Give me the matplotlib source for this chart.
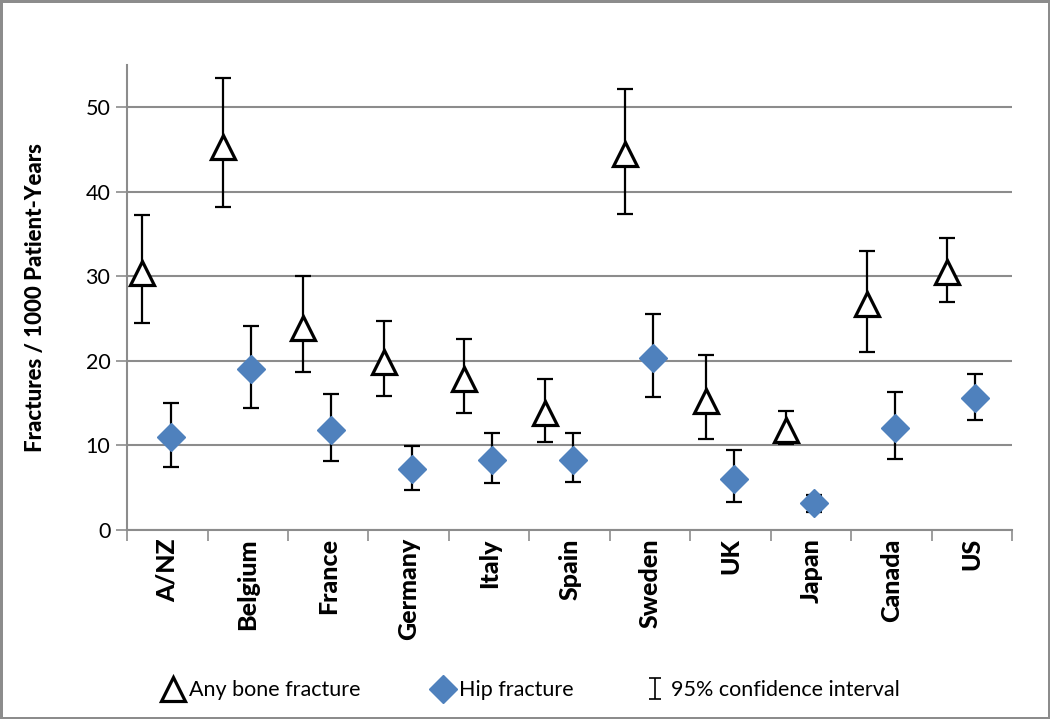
"""Fracture rates per 1000 patient-years by country, with 95% CIs."""

import matplotlib.pyplot as plt
import numpy as np

# ---------------------------------------------------------------------------
# Data
# ---------------------------------------------------------------------------

countries = ["A/NZ", "Belgium", "France", "Germany", "Italy", "Spain",
             "Sweden", "UK", "Japan", "Canada", "US"]

any_rate = [30.4, 45.3, 23.9, 19.8, 17.8, 13.8, 44.4, 15.2, 11.8, 26.7, 30.5]
any_low = [24.5, 38.2, 18.7, 15.8, 13.8, 10.4, 37.3, 10.8, 10.2, 21.0, 27.0]
any_high = [37.2, 53.4, 30.0, 24.7, 22.6, 17.9, 52.1, 20.7, 14.1, 33.0, 34.5]

hip_rate = [11.0, 19.0, 11.8, 7.2, 8.3, 8.3, 20.3, 6.0, 3.2, 12.1, 15.6]
hip_low = [7.4, 14.4, 8.2, 4.7, 5.6, 5.7, 15.7, 3.3, 2.1, 8.4, 13.0]
hip_high = [15.0, 24.1, 16.1, 9.9, 11.5, 11.4, 25.5, 9.4, 4.1, 16.3, 18.4]

y_ticks = [0, 10, 20, 30, 40, 50]

# ---------------------------------------------------------------------------
# Plot
# ---------------------------------------------------------------------------

plt.rcParams["font.family"] = ["Lato", "DejaVu Sans"]

GRID = "#8c8c8c"
BLUE = "#4f81bd"

fig = plt.figure(figsize=(10.5, 7.19), dpi=100,
                 edgecolor="#8c8c8c", linewidth=2.5)
ax = fig.add_axes([0.121, 0.263, 0.843, 0.647])

x = np.arange(len(countries))
any_rate = np.array(any_rate)
hip_rate = np.array(hip_rate)
any_err = [any_rate - np.array(any_low), np.array(any_high) - any_rate]
hip_err = [hip_rate - np.array(hip_low), np.array(hip_high) - hip_rate]

err_kw = dict(fmt="none", ecolor="black", elinewidth=1.6, capsize=6,
              capthick=1.6, zorder=3)
ax.errorbar(x - 0.31, any_rate, yerr=any_err, **err_kw)
ax.errorbar(x + 0.04, hip_rate, yerr=hip_err, **err_kw)

tri, = ax.plot(x - 0.31, any_rate, linestyle="none", marker="^",
               markersize=17, markerfacecolor="white",
               markeredgecolor="black", markeredgewidth=2.3, zorder=4,
               label="Any bone fracture")
dia, = ax.plot(x + 0.04, hip_rate, linestyle="none", marker="D",
               markersize=14, markerfacecolor=BLUE, markeredgecolor=BLUE,
               zorder=4, label="Hip fracture")
ci = ax.errorbar([np.nan], [np.nan], yerr=[1], fmt="none", ecolor="black",
                 elinewidth=1.2, capsize=4, capthick=1.2,
                 label="95% confidence interval")

ax.set_xlim(-0.5, len(countries) - 0.5)
ax.set_ylim(0, 55)
ax.set_yticks(y_ticks)
ax.tick_params(axis="y", labelsize=15.5, length=8, color=GRID, width=1.2,
               pad=4)
ax.grid(True, axis="y", color=GRID, linewidth=1.5)
ax.set_axisbelow(True)

# Ticks between categories, labels at category centres
ax.set_xticks(np.arange(len(countries) + 1) - 0.5)
ax.set_xticklabels([])
ax.tick_params(axis="x", which="major", length=8, color=GRID, width=1.2)
ax.set_xticks(x, minor=True)
ax.set_xticklabels(countries, minor=True, rotation=90, fontsize=18,
                   fontweight="black")
ax.tick_params(axis="x", which="minor", length=0, pad=6)

for side in ("top", "right"):
    ax.spines[side].set_visible(False)
for side in ("left", "bottom"):
    ax.spines[side].set_color(GRID)
    ax.spines[side].set_linewidth(1.5)

ax.set_ylabel("Fractures / 1000 Patient-Years", fontsize=16,
              fontweight="black")
ax.yaxis.set_label_coords(-0.092, 0.5)

fig.legend(handles=[tri, dia, ci], loc="center",
           bbox_to_anchor=(0.505, 0.04), ncol=3, frameon=False,
           fontsize=15.5, columnspacing=3.2, handletextpad=0.15,
           handlelength=1.2)

fig.savefig("out.png", dpi=100, edgecolor=fig.get_edgecolor())
